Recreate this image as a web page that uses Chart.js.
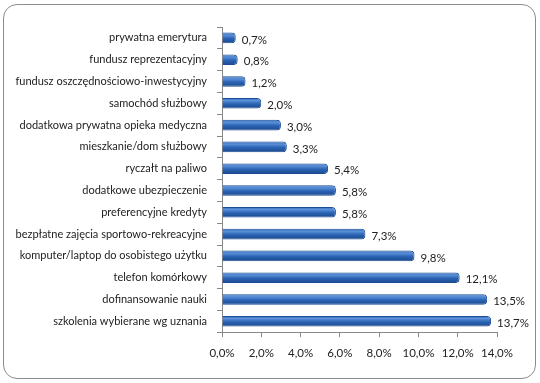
<!DOCTYPE html>
<html>
<head>
<meta charset="utf-8">
<script src="https://cdn.jsdelivr.net/npm/chart.js@4/dist/chart.umd.min.js"></script>
<style>
  body { margin: 0; background: #fff; }
  #frame { position: absolute; left: 3px; top: 4px; width: 531px; height: 373px;
           border: 1px solid #8c8c8c; border-radius: 14px; }
  #wrap { position: absolute; left: 0; top: 0; width: 540px; height: 383px; }
</style>
</head>
<body>
<div id="frame"></div>
<div id="wrap"><canvas id="c" width="540" height="383"></canvas></div>
<script>
// benefits, share of answers (%)
const categories = [
  "prywatna emerytura",
  "fundusz reprezentacyjny",
  "fundusz oszczędnościowo-inwestycyjny",
  "samochód służbowy",
  "dodatkowa prywatna opieka medyczna",
  "mieszkanie/dom służbowy",
  "ryczałt na paliwo",
  "dodatkowe ubezpieczenie",
  "preferencyjne kredyty",
  "bezpłatne zajęcia sportowo-rekreacyjne",
  "komputer/laptop do osobistego użytku",
  "telefon komórkowy",
  "dofinansowanie nauki",
  "szkolenia wybierane wg uznania"
];
const values = [0.7, 0.8, 1.2, 2.0, 3.0, 3.3, 5.4, 5.8, 5.8, 7.3, 9.8, 12.1, 13.5, 13.7];
const xTicks = [0, 2, 4, 6, 8, 10, 12, 14];

const fmt = v => v.toFixed(1).replace(".", ",") + "%";
const FONT = "Lato, 'Liberation Sans', sans-serif";

// bar gradient (dark edges, light top) like the excel cylinder look
function barFill(ctx) {
  const chart = ctx.chart;
  const y = chart.scales.y;
  if (!y || ctx.dataIndex === undefined) return "#2f6cbf";
  const c = y.getPixelForValue(ctx.dataIndex);
  if (!isFinite(c)) return "#2f6cbf";
  const h = 11;
  const g = chart.ctx.createLinearGradient(0, c - h / 2, 0, c + h / 2);
  g.addColorStop(0, "#2f69bb");
  g.addColorStop(0.25, "#5b90d8");
  g.addColorStop(0.55, "#2b64b4");
  g.addColorStop(1, "#1a468a");
  return g;
}

const valueLabels = {
  id: "valueLabels",
  afterDatasetsDraw(chart) {
    const { ctx } = chart;
    const meta = chart.getDatasetMeta(0);
    ctx.save();
    ctx.font = "11.5px " + FONT;
    ctx.fillStyle = "#222";
    ctx.textBaseline = "middle";
    meta.data.forEach((bar, i) => {
      ctx.fillText(fmt(values[i]), bar.x + 6, bar.y + 2);
    });
    ctx.restore();
  }
};

new Chart(document.getElementById("c"), {
  type: "bar",
  data: {
    labels: categories,
    datasets: [{
      data: values,
      backgroundColor: barFill,
      borderColor: "#1c4d93",
      borderWidth: 1,
      borderRadius: 4,
      borderSkipped: "start",
      barPercentage: 0.9,
      categoryPercentage: 0.54
    }]
  },
  options: {
    indexAxis: "y",
    responsive: false,
    animation: false,
    layout: { padding: { left: 10, right: 43, top: 27, bottom: 14 } },
    plugins: { legend: { display: false }, tooltip: { enabled: false } },
    scales: {
      x: {
        min: 0, max: 14,
        afterBuildTicks: s => { s.ticks = xTicks.map(v => ({ value: v })); },
        grid: { drawOnChartArea: false, tickLength: 5, color: "#888" },
        border: { color: "#888" },
        ticks: { font: { size: 11.5, family: FONT }, color: "#222", padding: 9,
                 maxRotation: 0, autoSkip: false, callback: v => fmt(v) }
      },
      y: {
        afterFit: s => { s.width = 212; },
        grid: { offset: true, drawOnChartArea: false, tickLength: 5, color: "#888" },
        border: { color: "#888" },
        ticks: { font: { size: 11, family: FONT }, color: "#222", padding: 10 }
      }
    }
  },
  plugins: [valueLabels]
});
</script>
</body>
</html>
